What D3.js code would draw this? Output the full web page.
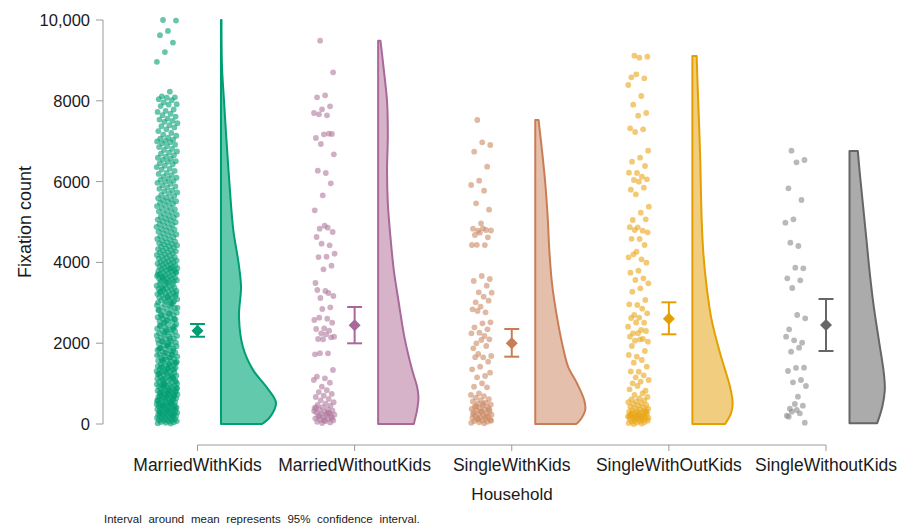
<!DOCTYPE html>
<html>
<head>
<meta charset="utf-8">
<script src="https://cdn.jsdelivr.net/npm/d3@7"></script>
<style>
  body { margin: 0; background: #fff; }
  svg text { font-family: "Liberation Sans", Arial, sans-serif; fill: #1a1a1a; }
</style>
</head>
<body>
<div id="vis"></div>
<script>
// Groups
const groups = ["MarriedWithKids", "MarriedWithoutKids", "SingleWithKids", "SingleWithOutKids", "SingleWithoutKids"];

// Fixation counts per household
const marriedWithKids = [
  10000, 9985, 9730, 9625, 9440, 9205, 8965,
  8225, 8110, 8085, 8075, 8040, 8015,
  7960, 7915, 7905, 7870, 7785, 7750, 7725, 7680, 7645, 7610, 7560, 7535, 7505, 7480,
  7445, 7395, 7370, 7340, 7295, 7250, 7205, 7160, 7135, 7090, 7065, 7040, 7010, 6995, 6975, 6940,
  6915, 6880, 6855, 6810, 6785, 6745, 6715, 6690, 6655, 6620, 6590, 6565, 6540, 6505, 6490, 6455,
  6430, 6395, 6360, 6320, 6300, 6265, 6215, 6190, 6160, 6125, 6095, 6070, 6045, 6020, 5995, 5970,
  5945, 5905, 5880, 5850, 5820, 5785, 5760, 5730, 5705, 5670, 5645, 5610, 5590, 5565, 5540, 5515, 5495, 5470,
  5445, 5420, 5395, 5365, 5340, 5310, 5285, 5260, 5235, 5205, 5180, 5155, 5130, 5105, 5085, 5060, 5040, 5015, 4995, 4975,
  4950, 4925, 4900, 4880, 4855, 4830, 4810, 4785, 4760, 4740, 4715, 4690, 4670, 4645, 4625, 4600, 4580, 4560, 4535, 4515, 4495, 4475,
  4455, 4440, 4420, 4400, 4385, 4365, 4345, 4330, 4310, 4290, 4275, 4255, 4240, 4220, 4200, 4185, 4165, 4150, 4130, 4115, 4095, 4080, 4060, 4045, 4030, 4015, 4000, 3985,
  3970, 3955, 3940, 3925, 3915, 3895, 3880, 3870, 3855, 3840, 3825, 3810, 3800, 3785, 3770, 3755, 3745, 3725, 3710, 3695, 3680, 3665, 3655, 3640, 3625, 3610, 3600, 3585, 3570, 3560, 3545, 3535, 3520, 3510, 3705, 3850, 3620, 3760,
  3490, 3475, 3460, 3440, 3425, 3410, 3390, 3375, 3360, 3345, 3330, 3310, 3295, 3280, 3265, 3250, 3230, 3215, 3200, 3185, 3170, 3150, 3135, 3120, 3105, 3090, 3070, 3055, 3040, 3025, 3010, 3000, 3355, 3220, 3140, 3270,
  2990, 2965, 2940, 2920, 2895, 2870, 2850, 2825, 2800, 2780, 2755, 2730, 2710, 2690, 2665, 2645, 2630, 2610, 2585, 2570, 2550, 2530, 2510, 2880, 2740, 2680, 2600, 2560, 2815, 2950,
  2490, 2470, 2450, 2425, 2400, 2380, 2360, 2335, 2310, 2290, 2270, 2250, 2225, 2200, 2180, 2160, 2140, 2115, 2100, 2080, 2060, 2035, 2020, 2005, 2440, 2350, 2260, 2190, 2110, 2050, 2410, 2320,
  1990, 1970, 1950, 1925, 1910, 1885, 1870, 1850, 1830, 1805, 1790, 1770, 1750, 1725, 1710, 1690, 1670, 1645, 1630, 1610, 1590, 1565, 1550, 1530, 1510, 1960, 1880, 1820, 1760, 1700, 1640, 1580, 1520, 1940, 1860, 1720, 1600, 1540,
  1495, 1480, 1460, 1450, 1430, 1420, 1400, 1390, 1370, 1360, 1340, 1330, 1310, 1300, 1285, 1270, 1250, 1240, 1220, 1210, 1195, 1180, 1160, 1150, 1130, 1120, 1105, 1090, 1070, 1060, 1045, 1030, 1015, 1000, 1470, 1410, 1350, 1290, 1230, 1170, 1110, 1050, 1380, 1260, 1140,
  995, 985, 970, 960, 945, 935, 920, 910, 900, 885, 875, 860, 850, 840, 825, 815, 800, 790, 780, 765, 755, 740, 730, 720, 705, 695, 680, 670, 660, 645, 635, 620, 610, 600, 585, 575, 560, 550, 540, 525, 515, 505, 950, 890, 830, 770, 710, 650, 590, 530, 965, 805, 745, 685, 625,
  498, 490, 480, 470, 462, 450, 440, 432, 420, 410, 402, 390, 380, 372, 360, 350, 342, 330, 320, 312, 300, 290, 282, 270, 260, 252, 240, 230, 222, 210, 200, 192, 180, 170, 162, 150, 140, 132, 120, 110, 102, 90, 80, 72, 60, 50, 42, 30, 20, 12, 455, 395, 335, 275, 215
];
const marriedWithoutKids = [
  9488, 8705, 8135, 8086, 7863, 7789, 7698, 7640, 7665, 7178, 7170, 7079, 7186, 6931, 6675,
  6213, 6271, 5957, 5660, 5289, 4860, 4835, 4752, 4909, 4629, 4422, 4463, 4216, 4142, 4133,
  3919, 3828, 3490, 3243, 3119, 3168, 3292, 3317, 2888, 2847, 2574, 2607, 2632, 2508, 2368,
  2351, 2310, 2244, 2161, 2219, 2104, 2145, 2098, 1724, 1749, 1752, 1337, 1130, 1172, 1023, 924, 1089,
  835, 790, 745, 700, 668, 620, 585, 540, 505, 470, 452, 418, 395, 372, 350, 331, 306, 288, 265, 247,
  230, 212, 190, 176, 158, 140, 122, 105, 88, 70, 55, 38, 22, 320, 260, 205, 150, 95, 410, 280
];
const singleWithKids = [
  7525, 6906, 6972, 6740, 6370, 6023, 5916, 5776, 5462, 5305, 4967, 4835, 4802, 4785, 4790, 4843,
  4678, 4620, 4736, 4431, 4428, 4436, 3589, 3663, 3540, 3424, 3259, 3251, 3152, 3012, 3053, 2904,
  2838, 2764, 2797, 2516, 2491, 2392, 2343, 2260, 2244, 2178, 1997, 2096, 2079, 1873, 1931, 1733,
  1683, 1650, 1655, 1543, 1419, 1353, 1188, 1155, 1270, 1007, 924, 908,
  755, 720, 690, 652, 615, 590, 560, 528, 505, 480, 455, 430, 412, 390, 372, 355, 338, 320, 302, 285,
  268, 250, 232, 215, 198, 180, 165, 150, 132, 118, 102, 88, 72, 58, 42, 28, 17, 440, 365, 310, 240, 190, 125, 80, 500
];
const singleWithOutKids = [
  9117, 9092, 9068, 8581, 8556, 8655, 8391, 8119, 7904, 7698, 7632, 7318, 7294, 7228, 6765, 6592,
  6493, 6386, 6213, 6221, 6122, 6040, 6056, 5998, 5800, 5850, 5685, 5380, 5231, 5050, 5066, 4868,
  4872, 4785, 4802, 4745, 4579, 4583, 4431, 4265, 4126, 4076, 4200, 3993, 3795, 3746, 3606, 3564,
  3482, 3358, 3275, 3069, 2946, 2962, 2854, 2698, 2739, 2632, 2624, 2508, 2512, 2409, 2327, 2244,
  2302, 2248, 2161, 2104, 2062, 2038, 2096, 1931, 1807, 1666, 1708, 1584, 1518, 1419, 1295, 1299,
  1205, 1155, 1089, 1047, 1007, 824, 941, 858, 759, 718,
  670, 640, 612, 585, 560, 540, 515, 495, 470, 452, 430, 410, 395, 378, 360, 345, 330, 312, 298, 282,
  268, 252, 240, 226, 212, 198, 185, 172, 160, 148, 135, 122, 110, 98, 85, 72, 60, 48, 35, 22, 10, 0,
  305, 275, 235, 205, 178, 152, 128, 255, 290, 220, 190, 160, 140
];
const singleWithoutKids = [
  6766, 6535, 6477, 5833, 5545, 5066, 4983, 4406, 4488, 3854, 3869, 3606, 3557, 3366, 2616, 2698,
  2343, 2012, 2071, 2161, 1889, 1790, 1394, 1390, 1312, 1089, 1031, 941, 676, 379, 454, 495, 206,
  264, 305, 33, 347, 182
];
const values = [marriedWithKids, marriedWithoutKids, singleWithKids, singleWithOutKids, singleWithoutKids];

// Mean and 95% CI per group
const means = [2310, 2443, 1997, 2607, 2450];
const ciLow = [2160, 1997, 1666, 2220, 1807];
const ciHigh = [2475, 2896, 2351, 3012, 3094];

// Half-violin density profiles (value, relative density 0-100)
const densValues = [
  [0, 170, 520, 900, 1340, 1900, 2650, 3400, 4000, 4800, 6000, 7200, 8000, 8850, 10000],
  [0, 100, 350, 670, 920, 1340, 2150, 3000, 3810, 4630, 5470, 6290, 7100, 7950, 8760, 9487],
  [0, 100, 350, 590, 1010, 1410, 1830, 2650, 3490, 4300, 5120, 5960, 6780, 7525],
  [0, 270, 520, 920, 1340, 1750, 2570, 3390, 4220, 5050, 6700, 8350, 9109],
  [20, 420, 840, 1260, 2080, 2900, 3730, 4550, 5370, 6210, 6757]
];
const densWidths = [
  [74.5, 89, 100, 83.6, 58.2, 40, 32.7, 36.4, 31.8, 22.4, 15.1, 9.1, 5.5, 1.8, 0.9],
  [64.9, 66.7, 70.9, 73.3, 70.9, 61.8, 47.8, 37.6, 28.5, 22.4, 17.6, 16.2, 17.6, 16.4, 10.4, 4.2],
  [74.5, 81.8, 90.9, 89.1, 75.8, 60, 51.5, 39.5, 30.4, 25.6, 22.6, 18.2, 12.2, 6],
  [59.5, 70.4, 73.3, 68.5, 59.5, 50.4, 35.1, 26, 20, 16.9, 14, 9.6, 7.8],
  [50.4, 59.5, 64.2, 62.4, 53.3, 44.2, 36.9, 30.9, 24.9, 18.7, 15.1]
];

const yTicks = [0, 2000, 4000, 6000, 8000, 10000];
const yTickLabels = ["0", "2000", "4000", "6000", "8000", "10,000"];

const strokeColors = ["#009E73", "#A8699A", "#C97D55", "#E69F00", "#666666"];
const fillColors = ["#62C9AC", "#D6B3C8", "#E4C0AC", "#F0CD7F", "#ABABAB"];
const pointColors = ["#009E73", "#B07A9E", "#CC8B66", "#E9A719", "#8A8A8A"];

const width = 899, height = 526;

const svg = d3.select("#vis").append("svg")
  .attr("width", width)
  .attr("height", height);

const x = d3.scalePoint().domain(groups).range([197.5, 826]);
const y = d3.scaleLinear().domain([0, 10000]).range([424, 20]);
const w = d3.scaleLinear().domain([0, 100]).range([0, 55]);

// y axis
const yAxisX = 103;
svg.append("line")
  .attr("x1", yAxisX).attr("x2", yAxisX)
  .attr("y1", y(0)).attr("y2", y(10000))
  .attr("stroke", "#9a9a9a").attr("stroke-width", 1);
const yt = svg.append("g").selectAll("g").data(yTicks).enter().append("g");
yt.append("line")
  .attr("x1", yAxisX - 7).attr("x2", yAxisX)
  .attr("y1", d => y(d)).attr("y2", d => y(d))
  .attr("stroke", "#9a9a9a");
yt.append("text")
  .attr("x", yAxisX - 13)
  .attr("y", d => y(d))
  .attr("dy", "0.36em")
  .attr("text-anchor", "end")
  .style("font-size", "16.5px")
  .text((d, i) => yTickLabels[i]);

// x axis
const xAxisY = 445;
svg.append("line")
  .attr("x1", x(groups[0])).attr("x2", x(groups[groups.length - 1]))
  .attr("y1", xAxisY).attr("y2", xAxisY)
  .attr("stroke", "#9a9a9a");
const xt = svg.append("g").selectAll("g").data(groups).enter().append("g");
xt.append("line")
  .attr("x1", d => x(d)).attr("x2", d => x(d))
  .attr("y1", xAxisY).attr("y2", xAxisY + 6)
  .attr("stroke", "#9a9a9a");
xt.append("text")
  .attr("x", d => x(d))
  .attr("y", 471)
  .attr("text-anchor", "middle")
  .style("font-size", "17.5px")
  .text(d => d);

// axis titles
svg.append("text")
  .attr("transform", "translate(31,222) rotate(-90)")
  .attr("text-anchor", "middle")
  .style("font-size", "18px")
  .text("Fixation count");
svg.append("text")
  .attr("x", 512).attr("y", 500)
  .attr("text-anchor", "middle")
  .style("font-size", "17px")
  .text("Household");
svg.append("text")
  .attr("x", 104).attr("y", 523)
  .style("font-size", "11.5px")
  .style("word-spacing", "3.5px")
  .text("Interval around mean represents 95% confidence interval.");

// jittered points (deterministic spread)
const jitter = 10.5;
groups.forEach((g, gi) => {
  const cx = x(g) - 30.5;
  svg.append("g").selectAll("circle")
    .data(values[gi])
    .enter()
    .append("circle")
      .attr("cx", (d, i) => cx + (((i * 0.6180339887 + 0.31) % 1) - 0.5) * 2 * jitter)
      .attr("cy", d => y(d))
      .attr("r", 2.9)
      .attr("fill", pointColors[gi])
      .attr("fill-opacity", 0.6);
});

// half violins
groups.forEach((g, gi) => {
  const base = x(g) + 23.5;
  const prof = densValues[gi].map((v, i) => ({ v: v, d: densWidths[gi][i] }));
  const area = d3.area()
    .curve(d3.curveCatmullRom)
    .y(d => y(d.v))
    .x0(base)
    .x1(d => base + w(d.d));
  svg.append("path")
    .datum(prof)
    .attr("d", area)
    .attr("fill", fillColors[gi])
    .attr("stroke", strokeColors[gi])
    .attr("stroke-width", 2)
    .attr("stroke-linejoin", "round");
});

// mean + CI
groups.forEach((g, gi) => {
  const cx = x(g);
  const eg = svg.append("g").attr("stroke", strokeColors[gi]).attr("stroke-width", 2);
  eg.append("line").attr("x1", cx).attr("x2", cx).attr("y1", y(ciLow[gi])).attr("y2", y(ciHigh[gi]));
  eg.append("line").attr("x1", cx - 7.5).attr("x2", cx + 7.5).attr("y1", y(ciLow[gi])).attr("y2", y(ciLow[gi]));
  eg.append("line").attr("x1", cx - 7.5).attr("x2", cx + 7.5).attr("y1", y(ciHigh[gi])).attr("y2", y(ciHigh[gi]));
  const my = y(means[gi]);
  svg.append("path")
    .attr("d", `M${cx},${my - 6}L${cx + 6},${my}L${cx},${my + 6}L${cx - 6},${my}Z`)
    .attr("fill", strokeColors[gi]);
});
</script>
</body>
</html>
